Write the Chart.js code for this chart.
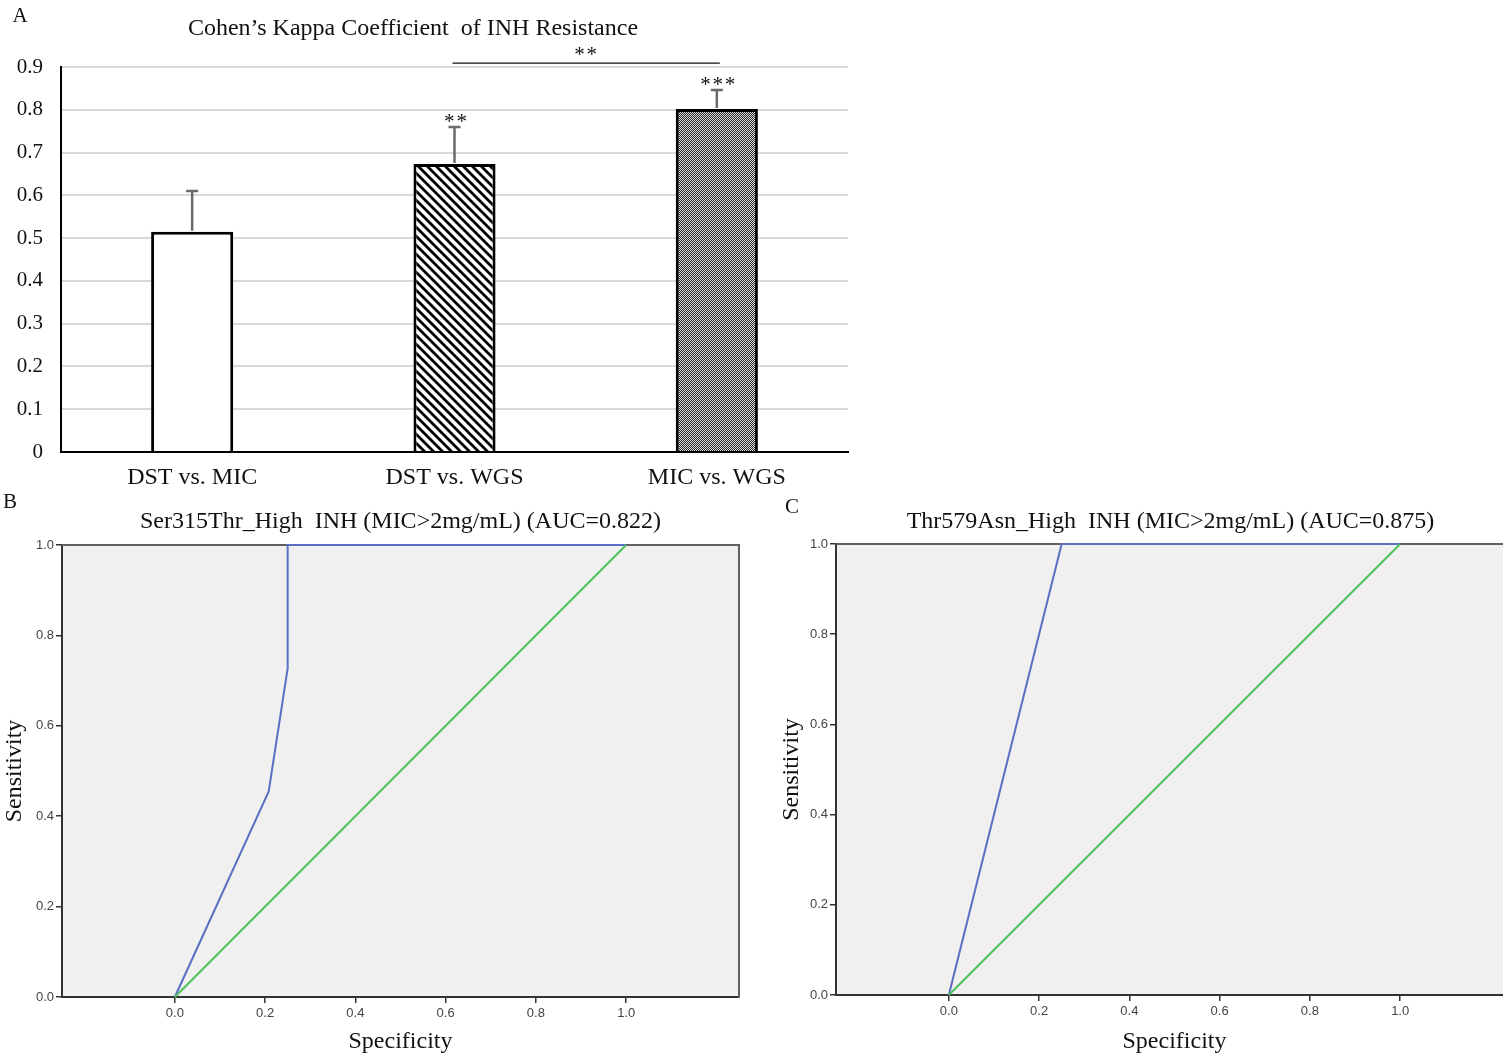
<!DOCTYPE html>
<html>
<head>
<meta charset="utf-8">
<script src="https://cdn.jsdelivr.net/npm/chart.js@4.4.0/dist/chart.umd.min.js"></script>
<style>
  body { margin: 0; background: #fff; overflow: hidden; width: 1503px; height: 1056px; position: relative; }
  canvas { position: absolute; }
</style>
</head>
<body>
<canvas id="kappaChart" width="870" height="490" style="left:0px;top:0px"></canvas>
<canvas id="rocB" width="770" height="566" style="left:0px;top:490px"></canvas>
<canvas id="rocC" width="774" height="566" style="left:770px;top:490px"></canvas>
<script>
// panel A - kappa values
const kappaLabels = ['DST vs. MIC', 'DST vs. WGS', 'MIC vs. WGS'];
const kappaValues = [0.515, 0.673, 0.802];
const kappaErrTop = [0.61, 0.76, 0.846];
const kappaStars = ['', '**', '***'];
const kappaYTicks = [0, 0.1, 0.2, 0.3, 0.4, 0.5, 0.6, 0.7, 0.8, 0.9];

// panels B and C - ROC curves
const rocTicks = [0, 0.2, 0.4, 0.6, 0.8, 1.0];
const rocB_spec = [0, 0.208, 0.25, 0.25, 1.0];
const rocB_sens = [0, 0.455, 0.727, 1.0, 1.0];
const rocC_spec = [0, 0.25, 1.0];
const rocC_sens = [0, 1.0, 1.0];
const refLine = [0, 1];

const serif = 'Liberation Serif';
const sans = 'Liberation Sans';

function hatchPattern() {
  const c = document.createElement('canvas');
  c.width = 9; c.height = 9;
  const g = c.getContext('2d');
  g.fillStyle = '#fff';
  g.fillRect(0, 0, 9, 9);
  g.strokeStyle = '#000';
  g.lineWidth = 2.8;
  g.beginPath();
  g.moveTo(-5, -5); g.lineTo(14, 14);
  g.moveTo(-5, 4); g.lineTo(5, 14);
  g.moveTo(4, -5); g.lineTo(14, 5);
  g.stroke();
  return g.createPattern(c, 'repeat');
}

function dotPattern() {
  const c = document.createElement('canvas');
  c.width = 2; c.height = 2;
  const g = c.getContext('2d');
  g.fillStyle = '#303030';
  g.fillRect(0, 0, 2, 2);
  g.fillStyle = '#d6d6d6';
  g.fillRect(0, 0, 1, 1);
  g.fillRect(1, 1, 1, 1);
  return g.createPattern(c, 'repeat');
}

// error bars, stars, bracket, title
const kappaMarks = {
  id: 'kappaMarks',
  afterDatasetsDraw(chart) {
    const ctx = chart.ctx;
    const y = chart.scales.y;
    const bars = chart.getDatasetMeta(0).data;
    ctx.save();
    bars.forEach((bar, i) => {
      const yErr = y.getPixelForValue(kappaErrTop[i]);
      ctx.strokeStyle = '#6a6a6a';
      ctx.lineWidth = 2.5;
      ctx.beginPath();
      ctx.moveTo(bar.x, bar.y - 1);
      ctx.lineTo(bar.x, yErr);
      ctx.moveTo(bar.x - 6, yErr);
      ctx.lineTo(bar.x + 6, yErr);
      ctx.stroke();
      if (kappaStars[i]) {
        ctx.fillStyle = '#111';
        ctx.font = '21px ' + serif;
        ctx.textAlign = 'center';
        ctx.textBaseline = 'alphabetic';
        ctx.fillText(kappaStars[i].split('').join('\u200a'), bar.x + 1, yErr + 1);
      }
    });
    // significance bracket between bar 2 and bar 3
    const yb = y.getPixelForValue(0.909);
    ctx.strokeStyle = '#111';
    ctx.lineWidth = 1.3;
    ctx.beginPath();
    ctx.moveTo(bars[1].x - 2, yb);
    ctx.lineTo(bars[2].x + 3, yb);
    ctx.stroke();
    ctx.fillStyle = '#111';
    ctx.font = '21px ' + serif;
    ctx.textAlign = 'center';
    ctx.fillText('*\u200a*', (bars[1].x + bars[2].x) / 2, yb - 2);
    ctx.restore();
  },
  afterDraw(chart) {
    const ctx = chart.ctx;
    ctx.save();
    ctx.fillStyle = '#111';
    ctx.textBaseline = 'middle';
    ctx.textAlign = 'center';
    ctx.font = '24px ' + serif;
    ctx.fillText('Cohen\u2019s Kappa Coefficient  of INH Resistance', 413, 29);
    ctx.font = '21px ' + serif;
    ctx.fillText('A', 20, 16);
    ctx.restore();
  }
};

new Chart(document.getElementById('kappaChart'), {
  type: 'bar',
  data: {
    labels: kappaLabels,
    datasets: [{
      data: kappaValues,
      backgroundColor: ['#ffffff', hatchPattern(), dotPattern()],
      borderColor: '#000',
      borderWidth: 3,
      borderSkipped: 'bottom',
      barPercentage: 0.313,
      categoryPercentage: 1
    }]
  },
  options: {
    responsive: false,
    animation: false,
    devicePixelRatio: 1,
    layout: { padding: { top: 67, right: 22, left: 0, bottom: 0 } },
    plugins: { legend: { display: false }, tooltip: { enabled: false } },
    scales: {
      x: {
        grid: { display: false, drawTicks: false },
        border: { color: '#000', width: 2 },
        ticks: { color: '#111', font: { family: serif, size: 24 }, padding: 11 },
        afterFit(s) { s.height = 38; }
      },
      y: {
        min: 0,
        max: 0.9,
        grid: { color: '#d9d9d9', lineWidth: 2, drawTicks: false },
        border: { color: '#000', width: 2 },
        ticks: {
          color: '#111',
          font: { family: serif, size: 21 },
          padding: 18,
          callback: v => v === 0 ? '0' : v.toFixed(1)
        },
        afterBuildTicks(s) { s.ticks = kappaYTicks.map(v => ({ value: v })); },
        afterFit(s) { s.width = 61; }
      }
    }
  },
  plugins: [kappaMarks]
});

// grey panel, frame, title and letter for the ROC charts
const rocDecor = {
  id: 'rocDecor',
  beforeDraw(chart) {
    const a = chart.chartArea;
    chart.ctx.save();
    chart.ctx.fillStyle = '#f0f0f0';
    chart.ctx.fillRect(a.left, a.top, a.right - a.left, a.bottom - a.top);
    chart.ctx.restore();
  },
  beforeDatasetsDraw(chart) {
    const a = chart.chartArea;
    const ctx = chart.ctx;
    ctx.save();
    ctx.strokeStyle = '#606060';
    ctx.lineWidth = 2;
    ctx.beginPath();
    ctx.moveTo(a.left, a.top);
    ctx.lineTo(a.right, a.top);
    ctx.lineTo(a.right, a.bottom);
    ctx.stroke();
    ctx.restore();
  },
  afterDraw(chart, args, opts) {
    const a = chart.chartArea;
    const ctx = chart.ctx;
    ctx.save();
    ctx.fillStyle = '#111';
    ctx.textBaseline = 'middle';
    ctx.textAlign = 'center';
    ctx.font = '24px ' + serif;
    ctx.fillText(opts.title, (a.left + a.right) / 2 + opts.titleDx, 32);
    ctx.font = '21px ' + serif;
    ctx.fillText(opts.letter, opts.lx, opts.ly);
    ctx.restore();
  }
};

function makeRoc(id, spec, sens, decor, pad, yWidth, xHeight) {
  new Chart(document.getElementById(id), {
    type: 'scatter',
    data: {
      datasets: [
        {
          data: refLine.map((v, i) => ({ x: v, y: refLine[i] })),
          showLine: true,
          borderColor: '#4cc25a',
          borderWidth: 2,
          pointRadius: 0,
          clip: false
        },
        {
          data: spec.map((v, i) => ({ x: v, y: sens[i] })),
          showLine: true,
          borderColor: '#5a6fc4',
          borderWidth: 2,
          pointRadius: 0,
          clip: false
        }
      ]
    },
    options: {
      responsive: false,
      animation: false,
      devicePixelRatio: 1,
      layout: { padding: pad },
      plugins: { legend: { display: false }, tooltip: { enabled: false }, rocDecor: decor },
      scales: {
        x: {
          type: 'linear',
          min: -0.25,
          max: 1.25,
          grid: { drawOnChartArea: false, color: '#333', tickLength: 6, lineWidth: 1.5 },
          border: { color: '#333', width: 2 },
          ticks: { color: '#444', font: { family: sans, size: 13 }, padding: 3, callback: v => v.toFixed(1) },
          afterBuildTicks(s) { s.ticks = rocTicks.map(v => ({ value: v })); },
          title: { display: true, text: 'Specificity', color: '#111', font: { family: serif, size: 24 }, padding: { top: 0, bottom: 0 } },
          afterFit(s) { s.height = xHeight; }
        },
        y: {
          min: 0,
          max: 1,
          grid: { drawOnChartArea: false, color: '#333', tickLength: 6, lineWidth: 1.5 },
          border: { color: '#333', width: 2 },
          ticks: { color: '#444', font: { family: sans, size: 13 }, padding: 2, callback: v => v.toFixed(1) },
          afterBuildTicks(s) { s.ticks = rocTicks.map(v => ({ value: v })); },
          title: { display: true, text: 'Sensitivity', color: '#111', font: { family: serif, size: 24 }, padding: { top: 0, bottom: 0 } },
          afterFit(s) { s.width = yWidth; }
        }
      }
    },
    plugins: [rocDecor]
  });
}

makeRoc('rocB', rocB_spec, rocB_sens,
  { title: 'Ser315Thr_High  INH (MIC>2mg/mL) (AUC=0.822)', titleDx: 0, letter: 'B', lx: 10, ly: 12 },
  { top: 55, right: 31, left: 0, bottom: 0 }, 62, 59);

makeRoc('rocC', rocC_spec, rocC_sens,
  { title: 'Thr579Asn_High  INH (MIC>2mg/mL) (AUC=0.875)', titleDx: -4, letter: 'C', lx: 22, ly: 17 },
  { top: 54, right: 31, left: 7, bottom: 0 }, 59, 61);
</script>
</body>
</html>
